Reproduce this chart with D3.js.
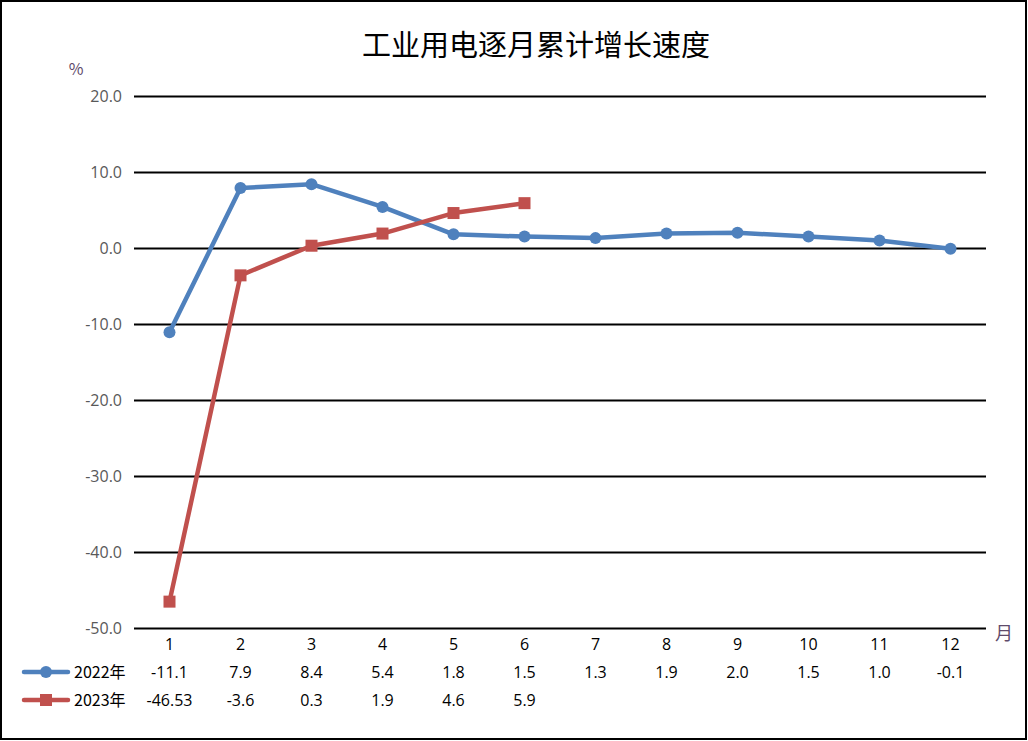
<!DOCTYPE html>
<html>
<head>
<meta charset="utf-8">
<script src="https://cdn.jsdelivr.net/npm/d3@7"></script>
<style>
  body { margin: 0; background: #fff; }
  svg { font-family: "Noto Sans CJK SC", "Open Sans", sans-serif; }
</style>
</head>
<body>
<svg width="1028" height="741"></svg>
<script>
const months = ["1","2","3","4","5","6","7","8","9","10","11","12"];
const seriesNames = ["2022年", "2023年"];
const values2022 = [-11.1, 7.9, 8.4, 5.4, 1.8, 1.5, 1.3, 1.9, 2.0, 1.5, 1.0, -0.1];
const values2023 = [-46.53, -3.6, 0.3, 1.9, 4.6, 5.9];
const labels2022 = ["-11.1","7.9","8.4","5.4","1.8","1.5","1.3","1.9","2.0","1.5","1.0","-0.1"];
const labels2023 = ["-46.53","-3.6","0.3","1.9","4.6","5.9"];
const yTicks = [20, 10, 0, -10, -20, -30, -40, -50];
const colors = ["#4F81BD", "#C0504D"];

const svg = d3.select("svg");

// outer border
svg.append("rect")
    .attr("x", 1).attr("y", 1)
    .attr("width", 1025).attr("height", 738)
    .attr("fill", "none").attr("stroke", "#000").attr("stroke-width", 2);

const margin = { top: 96, left: 134, right: 42, bottom: 113 };
const width = 1028 - margin.left - margin.right,
      height = 741 - margin.top - margin.bottom;

const x = d3.scaleBand().domain(months).range([margin.left, margin.left + width]);
const y = d3.scaleLinear().domain([-50, 20]).range([margin.top + height, margin.top]);
const cx = m => x(m) + x.bandwidth() / 2;

// title
svg.append("text")
    .attr("x", 536).attr("y", 56)
    .attr("text-anchor", "middle")
    .attr("font-size", 29)
    .attr("fill", "#000")
    .text("工业用电逐月累计增长速度");

// gridlines + y labels
svg.append("g")
    .attr("transform", `translate(${margin.left},0)`)
    .call(d3.axisLeft(y).tickValues(yTicks).tickSize(-width).tickPadding(12)
        .tickFormat(d => d.toFixed(1)))
    .call(g => g.select(".domain").remove())
    .call(g => g.selectAll("line").attr("stroke", "#000").attr("stroke-width", 2))
    .call(g => g.selectAll("text").attr("font-size", 16).attr("fill", "#595959")
        .attr("font-family", "'Open Sans', sans-serif"));

svg.append("text")
    .attr("x", 76).attr("y", 75)
    .attr("text-anchor", "middle")
    .attr("font-size", 16).attr("fill", "#5f4b6b")
    .text("%");

svg.append("text")
    .attr("x", 1004).attr("y", 640)
    .attr("text-anchor", "middle")
    .attr("font-size", 18).attr("fill", "#5f4b6b")
    .text("月");

// lines
const line = d3.line().x((d, i) => cx(months[i])).y(d => y(d));
const allSeries = [values2022, values2023];

allSeries.forEach((vals, s) => {
    svg.append("path")
        .datum(vals)
        .attr("fill", "none")
        .attr("stroke", colors[s])
        .attr("stroke-width", 4.5)
        .attr("stroke-linejoin", "round")
        .attr("d", line);
});

svg.selectAll("circle.p22")
    .data(values2022)
    .join("circle")
    .attr("cx", (d, i) => cx(months[i]))
    .attr("cy", d => y(d))
    .attr("r", 6)
    .attr("fill", colors[0]);

svg.selectAll("rect.p23")
    .data(values2023)
    .join("rect")
    .attr("x", (d, i) => cx(months[i]) - 6)
    .attr("y", d => y(d) - 6)
    .attr("width", 12).attr("height", 12)
    .attr("fill", colors[1]);

// data table
const table = svg.append("g").attr("font-size", 16).attr("fill", "#000")
    .attr("font-family", "'Open Sans', sans-serif");

table.selectAll("text.m")
    .data(months)
    .join("text")
    .attr("x", d => cx(d)).attr("y", 650)
    .attr("text-anchor", "middle")
    .text(d => d);

[labels2022, labels2023].forEach((labs, s) => {
    const rowY = 678 + s * 28;
    table.selectAll(`text.r${s}`)
        .data(labs)
        .join("text")
        .attr("x", (d, i) => cx(months[i])).attr("y", rowY)
        .attr("text-anchor", "middle")
        .text(d => d);

    const ly = rowY - 6;
    svg.append("line")
        .attr("x1", 24).attr("x2", 68)
        .attr("y1", ly).attr("y2", ly)
        .attr("stroke", colors[s]).attr("stroke-width", 4.5)
        .attr("stroke-linecap", "round");
    if (s === 0) {
        svg.append("circle").attr("cx", 46).attr("cy", ly).attr("r", 6).attr("fill", colors[s]);
    } else {
        svg.append("rect").attr("x", 40).attr("y", ly - 6).attr("width", 12).attr("height", 12).attr("fill", colors[s]);
    }
    svg.append("text")
        .attr("x", 74).attr("y", rowY)
        .attr("font-size", 16).attr("fill", "#000")
        .text(seriesNames[s]);
});
</script>
</body>
</html>
